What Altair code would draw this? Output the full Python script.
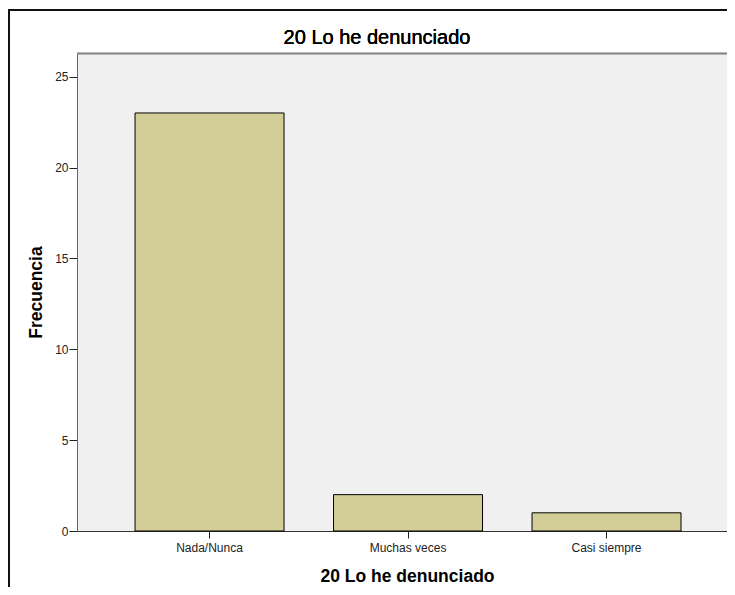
import altair as alt
import pandas as pd

categories = ["Nada/Nunca", "Muchas veces", "Casi siempre"]
frecuencia = [23, 2, 1]
y_ticks = [0, 5, 10, 15, 20, 25]
title_text = "20 Lo he denunciado"
x_title = "20 Lo he denunciado"
y_title = "Frecuencia"

df = pd.DataFrame({"cat": categories, "freq": frecuencia})

W, H = 650, 478
FONT = "Liberation Sans"

bars = alt.Chart(df).mark_bar(
    fill="#D3CE98", stroke="#000000", strokeWidth=1
).encode(
    x=alt.X("cat:N", sort=categories,
            scale=alt.Scale(paddingInner=0.2494, paddingOuter=0.262, align=0.558),
            axis=alt.Axis(title=x_title, labelAngle=0, tickSize=7, tickColor="#222222",
                          domainColor="#333333", labelColor="#222222", labelFontSize=12,
                          labelFont=FONT, labelPadding=4, titleFont=FONT, titleFontSize=17.5,
                          titleFontWeight="bold", titleColor="#000000", titlePadding=14,
                          titleX=330)),
    y=alt.Y("freq:Q", scale=alt.Scale(domain=[0, 26.3], nice=False),
            axis=alt.Axis(title=y_title, values=y_ticks, grid=False, tickSize=8,
                          tickColor="#222222", domainColor="#666666", labelColor="#222222",
                          labelFontSize=12, labelFont=FONT, labelPadding=1,
                          titleFont=FONT, titleFontSize=17.5, titleFontWeight="bold",
                          titleColor="#000000", titlePadding=9)),
)

top_border = alt.Chart(df).mark_rule(color="#888888", strokeWidth=1.5).encode(
    x=alt.value(0), x2=alt.value(W), y=alt.value(0.5)
)
frame_top = alt.Chart(df).mark_rule(color="#111111", strokeWidth=2).encode(
    x=alt.value(-69), x2=alt.value(W), y=alt.value(-43)
)
frame_left = alt.Chart(df).mark_rule(color="#111111", strokeWidth=2).encode(
    x=alt.value(-68), y=alt.value(-44), y2=alt.value(H + 60)
)
title_mark = alt.Chart(df).mark_text(
    font=FONT, fontSize=20, color="#000000", align="center", baseline="alphabetic"
).encode(
    x=alt.value(300), y=alt.value(-9.5), text=alt.value(title_text)
)

chart = alt.layer(bars, top_border, frame_top, frame_left, title_mark).properties(
    width=W, height=H,
    background="#FFFFFF",
    autosize=alt.AutoSizeParams(type="none"),
    padding={"left": 69, "top": 45, "right": 0, "bottom": 56},
).configure_view(fill="#F0F0F0", stroke=None)

chart.save("out.html", embed_options={"renderer": "svg", "actions": False})
